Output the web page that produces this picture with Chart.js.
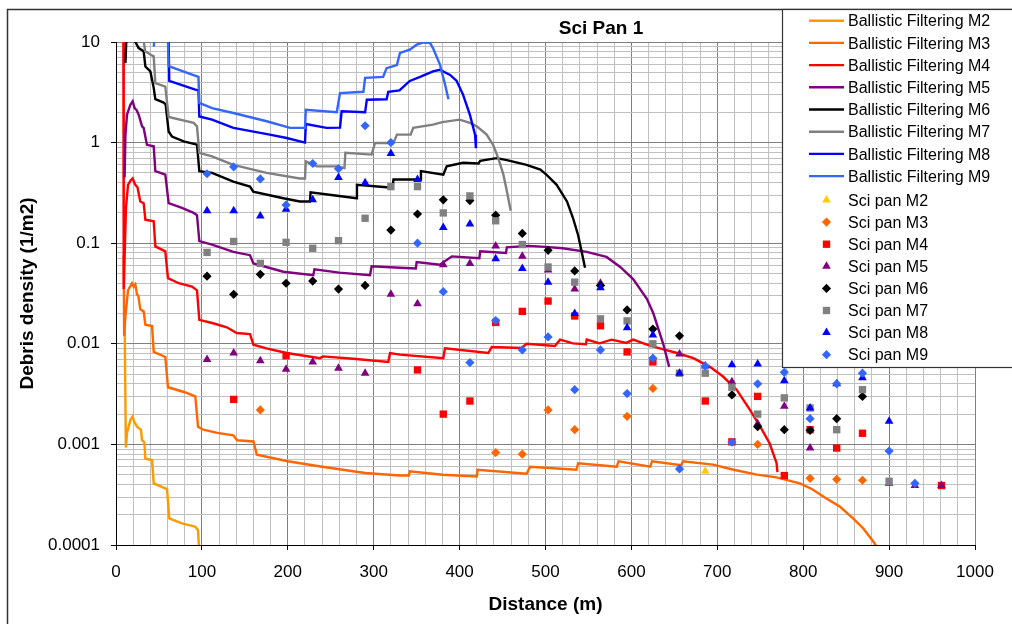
<!DOCTYPE html>
<html>
<head>
<meta charset="utf-8">
<script src="https://cdn.jsdelivr.net/npm/chart.js@4.4.1/dist/chart.umd.min.js"></script>
<style>
html, body { margin: 0; padding: 0; background: #fff; }
canvas { display: block; }
</style>
</head>
<body>
<canvas id="sciPan" width="1012" height="624"></canvas>
<script>
// titres et graduations
const chartTitle = 'Sci Pan 1';
const xTitle = 'Distance (m)';
const yTitle = 'Debris density (1/m2)';
const xTickValues = [0, 100, 200, 300, 400, 500, 600, 700, 800, 900, 1000];
const xTickLabels = ['0', '100', '200', '300', '400', '500', '600', '700', '800', '900', '1000'];
const yTickValues = [0.0001, 0.001, 0.01, 0.1, 1, 10];
const yTickLabels = ['0.0001', '0.001', '0.01', '0.1', '1', '10'];

// courbes "Ballistic Filtering" : [distance, densite]
const bfM2 = [[10,0.018],[11.5,0.00093],[12.8,0.0013],[16.7,0.00175],[19.4,0.0019],[21,0.0017],[24.4,0.0015],[29,0.0014],[30.3,0.0011],[33,0.00105],[34.2,0.00072],[42,0.0007],[43.9,0.00041],[59.4,0.00036],[62,0.000184],[76.8,0.000164],[92.3,0.000152],[95.5,0.00014],[97,0.00008]];
const bfM3 = [[9,0.075],[9.5,0.012],[11,0.019],[14,0.034],[18.6,0.040],[20.6,0.037],[22.5,0.039],[24.4,0.031],[26,0.030],[28.3,0.022],[32.2,0.021],[34.2,0.0155],[42,0.015],[43.9,0.0083],[57.4,0.0074],[60.5,0.0037],[80,0.0033],[92.3,0.0030],[95.5,0.0015],[101.6,0.0014],[118,0.0013],[136.6,0.00123],[141,0.0011],[160,0.00107],[164,0.00079],[200,0.00068],[240,0.0006],[290,0.00052],[330,0.00049],[341,0.00049],[342,0.00054],[380,0.0005],[420,0.00048],[421,0.00056],[478,0.00051],[482,0.0006],[536,0.00056],[538,0.00065],[583,0.0006],[585,0.00068],[622,0.0006],[624,0.00068],[658,0.00062],[660,0.00068],[695,0.00063],[719,0.00056],[746,0.0005],[769,0.00047],[796,0.00041],[810,0.00036],[827,0.00029],[843,0.00024],[858,0.000184],[870,0.000146],[882,0.000107],[891,0.00008]];
const bfM4 = [[8.5,30],[9,0.035],[11.6,0.224],[14,0.38],[17,0.42],[19.4,0.44],[22.5,0.38],[25,0.36],[28.3,0.26],[32.2,0.25],[34.2,0.171],[43.9,0.165],[45.8,0.093],[57.4,0.083],[60.5,0.045],[73,0.040],[88.5,0.037],[94.3,0.034],[97,0.0173],[113,0.016],[129,0.0146],[140.5,0.0128],[156,0.0125],[160,0.0098],[175,0.009],[198.7,0.0081],[237.5,0.0072],[241,0.0075],[276,0.0071],[317,0.0066],[319,0.0081],[330.6,0.0078],[381,0.0072],[383,0.009],[433.5,0.0081],[437.4,0.0093],[472,0.0091],[478,0.0100],[511,0.0095],[517,0.011],[532,0.0101],[547,0.0099],[548,0.011],[563,0.0101],[577,0.011],[594,0.0102],[602,0.011],[618,0.0098],[633,0.009],[653,0.0081],[672,0.0072],[691.5,0.0059],[707,0.0047],[722.5,0.0035],[738,0.0022],[750,0.0015],[761,0.00102],[769,0.00065],[770,0.00053]];
const bfM5 = [[10,0.45],[11,1.2],[12.8,1.89],[16.7,2.38],[19.4,2.57],[21.7,2.2],[24,2.1],[26.4,1.89],[30.3,1.45],[32.2,1.40],[36,0.95],[43.9,0.92],[45.8,0.52],[57.4,0.48],[61.3,0.25],[76.8,0.224],[90.4,0.20],[94.3,0.19],[97,0.105],[111.8,0.097],[136.6,0.082],[156,0.076],[160,0.063],[194.8,0.052],[229.7,0.048],[231,0.055],[260,0.051],[295.7,0.048],[297.6,0.059],[330.6,0.057],[349,0.056],[350,0.065],[377,0.061],[391,0.074],[423,0.071],[424,0.083],[454,0.08],[455,0.091],[480,0.094],[500,0.092],[520,0.089],[548,0.082],[571,0.073],[587,0.058],[602,0.044],[618,0.028],[625.6,0.020],[637,0.010],[644,0.0059]];
const bfM6 = [[11,6.2],[12,10.5],[15,12],[18,11.5],[22.5,10],[26.4,8.7],[32.2,8.1],[34.2,5.7],[40,5.1],[43.9,3.5],[45.8,2.7],[55.5,2.5],[57.8,2.4],[61.3,1.29],[65.2,1.15],[78.8,1.03],[94.3,0.955],[97,0.52],[111.8,0.5],[136.6,0.41],[156,0.365],[159.8,0.325],[194.8,0.28],[214,0.26],[225.8,0.26],[226.5,0.32],[253,0.30],[280,0.28],[280.5,0.38],[315,0.36],[322,0.36],[323,0.43],[354,0.43],[355,0.52],[381,0.48],[385,0.58],[404,0.63],[422,0.62],[424,0.66],[443,0.70],[455,0.67],[478,0.60],[494,0.54],[501,0.48],[513,0.38],[525,0.26],[532,0.178],[538,0.12],[542,0.083],[546,0.057]];
const bfM7 = [[12,25],[20,40],[28,25],[31,12],[34,8.1],[40,7.5],[43.9,7.2],[45.8,3.9],[57.4,3.6],[61.3,1.8],[90.4,1.57],[94.3,1.45],[97,0.79],[111.8,0.73],[136.6,0.60],[175.4,0.50],[214,0.44],[220,0.44],[221,0.65],[233.6,0.58],[257,0.58],[266,0.56],[267,0.79],[297.6,0.76],[301.5,0.99],[323,0.99],[327,1.2],[343,1.2],[346,1.4],[369,1.51],[380,1.6],[400,1.69],[412,1.57],[420,1.45],[431.5,1.2],[439,0.95],[445,0.70],[451,0.48],[455,0.33],[459.5,0.21]];
const bfM8 = [[50,15],[61,15],[62,4.1],[92.3,3.36],[96,3.3],[97,1.82],[111.8,1.69],[136.6,1.40],[179,1.2],[198.7,1.11],[220,1.0],[221,1.53],[245,1.40],[260.8,1.41],[262.7,2.05],[290,2.0],[292,2.67],[315,2.7],[317,3.2],[330,3.3],[342,4.1],[354,4.5],[369,5.1],[377,5.3],[389,4.7],[396.6,4.1],[404,3.0],[412,1.89],[418,1.2],[419,0.88]];
const bfM9 = [[44,9.0],[46,15],[60,15],[61.3,5.75],[94.3,4.56],[96,4.5],[97,2.48],[111.8,2.2],[136.6,1.97],[175.4,1.63],[202.6,1.40],[220,1.40],[221,2.12],[257,2.0],[260.8,3.1],[288,3.2],[290,4.4],[311,4.5],[315,5.5],[327,5.9],[330.6,7.8],[342,8.4],[350,9.4],[358,9.9],[365.5,9.8],[369,8.7],[377,6.0],[383,3.8],[387,2.7]];

// mesures "Sci pan" : distances communes et densites (null = pas de point)
const sciX = [106,137,168,198,229,259,290,320,351,381,412,442,473,503,534,564,595,625,656,686,717,747,778,808,839,869,900,930,961];
const sciM2 = [null,null,null,null,null,null,null,null,null,null,null,null,null,null,null,null,null,null,null,0.00054,null,null,null,null,null,null,null,null,null];
const sciM3 = [null,null,0.0022,null,null,null,null,null,null,null,null,0.00083,0.0008,0.0022,0.0014,null,0.0019,0.0036,null,null,null,0.001,null,0.00046,0.00045,0.00044,null,null,null];
const sciM4 = [null,0.0028,null,0.0076,null,null,null,null,0.0055,0.0020,0.0027,0.0163,0.021,0.0266,0.0189,0.0151,0.0083,0.0066,null,0.0027,0.00106,0.003,0.00049,0.0014,0.00092,0.00129,null,null,0.00039];
const sciM5 = [0.0070,0.0081,0.0068,0.0056,0.0066,0.0057,0.0051,0.031,0.025,0.061,0.063,0.094,0.074,0.054,0.035,0.040,null,null,0.0079,null,0.0042,0.0016,0.0024,0.00092,null,null,0.00041,0.00039,0.00039];
const sciM6 = [0.047,0.031,0.049,0.040,0.042,0.035,0.038,0.135,0.195,0.27,0.265,0.19,0.125,0.085,0.053,0.038,0.0217,0.014,0.012,null,0.0031,0.0015,0.0014,0.00138,0.0018,0.003,null,null,null];
const sciM7 = [0.081,0.104,0.063,0.102,0.089,0.106,0.177,0.365,0.365,0.20,0.295,0.167,0.097,0.058,0.041,0.0177,0.0169,0.0100,0.0051,0.0051,0.0037,0.0020,0.0029,0.0023,0.0014,0.0035,0.00043,null,null];
const sciM8 = [0.21,0.21,0.186,0.217,0.27,0.45,0.40,0.78,0.43,0.143,0.155,0.07,0.056,0.041,0.020,0.036,0.0144,0.0122,0.0051,0.006,0.0062,0.0063,0.0043,0.0023,0.0040,0.0046,0.0017,null,null];
const sciM9 = [0.49,0.575,0.435,0.24,0.62,0.55,1.47,1.0,0.1,0.033,0.0065,0.017,0.0087,0.0117,0.0035,0.0087,0.0032,0.0072,0.00057,0.006,0.00105,0.004,0.0052,0.0018,0.004,0.0051,0.00086,0.00041,null];

const lineNames = ['Ballistic Filtering M2','Ballistic Filtering M3','Ballistic Filtering M4','Ballistic Filtering M5','Ballistic Filtering M6','Ballistic Filtering M7','Ballistic Filtering M8','Ballistic Filtering M9'];
const sciNames = ['Sci pan M2','Sci pan M3','Sci pan M4','Sci pan M5','Sci pan M6','Sci pan M7','Sci pan M8','Sci pan M9'];
const lineSeries = [bfM2, bfM3, bfM4, bfM5, bfM6, bfM7, bfM8, bfM9];
const sciSeries = [sciM2, sciM3, sciM4, sciM5, sciM6, sciM7, sciM8, sciM9];

// styles
const lineColors = ['#FF9900','#FF6600','#FF0000','#800080','#000000','#808080','#0000FF','#3366FF'];
const sciColors = ['#FFCC00','#FF6600','#FF0000','#800080','#000000','#808080','#0000FF','#3366FF'];
const sciStyles = ['triangle','rectRot','rect','triangle','rectRot','rect','triangle','rectRot'];
const sciRadius = { triangle: 5, rectRot: 4.6, rect: 5.2 };
const FONT = "'Liberation Sans', Arial, sans-serif";

Chart.defaults.font.family = FONT;
Chart.defaults.color = '#000';

const isDecade = (v) => {
  const l = Math.log10(v);
  return Math.abs(l - Math.round(l)) < 1e-6;
};

const datasets = [];
lineSeries.forEach((pts, i) => {
  datasets.push({
    label: lineNames[i],
    kind: 'line',
    data: pts.map(p => ({ x: p[0], y: p[1] })),
    showLine: true,
    borderColor: lineColors[i],
    backgroundColor: lineColors[i],
    borderWidth: 2.4,
    pointRadius: 0,
    pointHoverRadius: 0,
    tension: 0,
    fill: false,
    order: 100 - i
  });
});
sciSeries.forEach((vals, i) => {
  datasets.push({
    label: sciNames[i],
    kind: 'sci',
    data: sciX.map((x, k) => ({ x: x, y: vals[k] })).filter(p => p.y !== null),
    showLine: false,
    pointStyle: sciStyles[i],
    pointRadius: sciRadius[sciStyles[i]],
    pointHoverRadius: sciRadius[sciStyles[i]],
    backgroundColor: sciColors[i],
    borderColor: sciColors[i],
    borderWidth: 0,
    order: 50 - i
  });
});

function marker(c, style, x, y, r) {
  c.beginPath();
  if (style === 'triangle') {
    c.moveTo(x, y - r);
    c.lineTo(x + r * 0.866, y + r * 0.5);
    c.lineTo(x - r * 0.866, y + r * 0.5);
  } else if (style === 'rectRot') {
    c.moveTo(x, y - r); c.lineTo(x + r, y); c.lineTo(x, y + r); c.lineTo(x - r, y);
  } else {
    const s = r * Math.SQRT1_2;
    c.rect(x - s, y - s, 2 * s, 2 * s);
  }
  c.closePath();
  c.fill();
}

// cadre, titre et legende encadree (par-dessus le trace, comme dans Excel)
const frameAndLegend = {
  id: 'frameAndLegend',
  beforeDraw(chart) {
    const c = chart.ctx;
    c.save();
    c.fillStyle = '#fff';
    c.fillRect(0, 0, chart.width, chart.height);
    c.restore();
  },
  afterDraw(chart) {
    const c = chart.ctx;
    c.save();
    c.strokeStyle = '#333';
    c.lineWidth = 1.5;
    c.strokeRect(7.5, 9.5, chart.width + 20, chart.height + 20);

    c.fillStyle = '#000';
    c.font = 'bold 19px ' + FONT;
    c.textAlign = 'center';
    c.textBaseline = 'alphabetic';
    c.fillText(chartTitle, 601, 34);

    c.fillStyle = '#fff';
    c.fillRect(782, 9, 260, 358);
    c.lineWidth = 1.2;
    c.strokeRect(782.5, 9.5, 260, 358);

    c.font = '16px ' + FONT;
    c.textAlign = 'left';
    let li = 0, si = 0;
    chart.data.datasets.forEach(ds => {
      let y;
      if (ds.kind === 'line') {
        y = 20.7 + 22.2 * li++;
        c.strokeStyle = ds.borderColor;
        c.lineWidth = 2.4;
        c.beginPath();
        c.moveTo(809, y);
        c.lineTo(844, y);
        c.stroke();
      } else {
        y = 200 + 22.1 * si++;
        c.fillStyle = ds.backgroundColor;
        marker(c, ds.pointStyle, 826.5, y, ds.pointRadius);
      }
      c.fillStyle = '#000';
      c.fillText(ds.label, 848, y + 5.6);
    });
    c.restore();
  }
};

new Chart(document.getElementById('sciPan'), {
  type: 'scatter',
  data: { datasets: datasets },
  plugins: [frameAndLegend],
  options: {
    responsive: false,
    animation: false,
    events: [],
    layout: { padding: { top: 42, right: 37, left: 0, bottom: 0 } },
    plugins: {
      legend: { display: false },
      title: { display: false },
      tooltip: { enabled: false }
    },
    scales: {
      x: {
        type: 'linear',
        min: 0,
        max: 1000,
        afterBuildTicks: (scale) => {
          const t = [];
          for (let v = 0; v <= 1000; v += 20) t.push({ value: v });
          scale.ticks = t;
        },
        afterFit: (scale) => { scale.height = 79; },
        ticks: {
          autoSkip: false,
          maxRotation: 0,
          padding: 12,
          color: '#000',
          font: { size: 17 },
          callback: (value) => {
            const k = xTickValues.indexOf(value);
            return k >= 0 ? xTickLabels[k] : '';
          }
        },
        grid: {
          lineWidth: 1,
          tickLength: 5,
          color: (ctx) => (ctx.tick && ctx.tick.value % 100 === 0) ? '#808080' : '#c0c0c0',
          tickColor: (ctx) => (ctx.tick && ctx.tick.value % 100 === 0) ? '#000' : 'rgba(0,0,0,0)'
        },
        border: { display: true, color: '#000', width: 1 },
        title: {
          display: true,
          text: xTitle,
          color: '#000',
          font: { size: 19, weight: 'bold' },
          padding: { top: 0, bottom: 8 }
        }
      },
      y: {
        type: 'logarithmic',
        min: 0.0001,
        max: 10,
        afterBuildTicks: (scale) => {
          const t = [];
          for (let e = -4; e <= 1; e++) {
            for (let m = 1; m <= 9; m++) {
              const v = m * Math.pow(10, e);
              if (v <= 10.0001) t.push({ value: v });
            }
          }
          scale.ticks = t;
        },
        afterFit: (scale) => { scale.width = 116; },
        ticks: {
          autoSkip: false,
          padding: 11,
          color: '#000',
          font: { size: 17 },
          callback: (value) => {
            const k = yTickValues.findIndex(t => Math.abs(t - value) / t < 1e-6);
            return k >= 0 ? yTickLabels[k] : '';
          }
        },
        grid: {
          lineWidth: 1,
          tickLength: 5,
          color: (ctx) => (ctx.tick && isDecade(ctx.tick.value)) ? '#808080' : '#c0c0c0',
          tickColor: (ctx) => (ctx.tick && isDecade(ctx.tick.value)) ? '#000' : 'rgba(0,0,0,0)'
        },
        border: { display: true, color: '#000', width: 1 },
        title: {
          display: true,
          text: yTitle,
          color: '#000',
          font: { size: 19, weight: 'bold' },
          padding: { top: 16, bottom: 0 }
        }
      }
    }
  }
});
</script>
</body>
</html>
